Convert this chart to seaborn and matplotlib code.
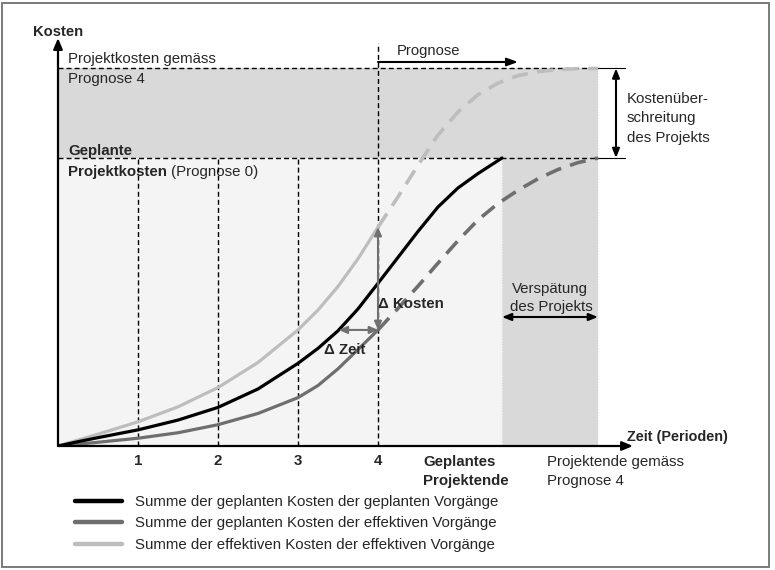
import numpy as np
import pandas as pd
import matplotlib
matplotlib.use("Agg")
import matplotlib.pyplot as plt
from matplotlib.lines import Line2D
from matplotlib.patches import Rectangle
import seaborn as sns

# ---------------- data ----------------
periods = [1, 2, 3, 4]
tick_labels = ["1", "2", "3", "4"]
status_period = 4            # Prognose 4 is made at end of period 4
planned_end = 5.55           # Geplantes Projektende
forecast_end = 6.75          # Projektende gemäss Prognose 4
planned_cost = 100.0         # Geplante Projektkosten (Prognose 0)
forecast_cost = 131.1        # Projektkosten gemäss Prognose 4

# Summe der geplanten Kosten der geplanten Vorgänge
plan_x = [0, 0.25, 0.5, 1, 1.5, 2, 2.5, 3, 3.25, 3.5, 3.75, 4, 4.25, 4.5, 4.75, 5.0, 5.25, 5.55]
plan_y = [0, 1.5, 2.9, 5.6, 9.0, 13.4, 19.8, 28.7, 33.9, 40.0, 47.6, 56.5, 65.5, 74.5, 83.0, 89.6, 94.6, 100.0]

# Summe der geplanten Kosten der effektiven Vorgänge
earned_x = [0, 0.5, 1, 1.5, 2, 2.5, 3, 3.25, 3.5, 3.75, 4, 4.25, 4.5, 4.75, 5.0, 5.25, 5.5,
            5.75, 6.0, 6.25, 6.5, 6.75]
earned_y = [0, 1.3, 2.7, 4.6, 7.4, 11.3, 16.8, 21.0, 26.8, 33.5, 40.3, 47.8, 55.5, 63.5, 71.3, 78.5, 84.2,
            88.8, 92.8, 96.0, 98.4, 100.0]

# Summe der effektiven Kosten der effektiven Vorgänge
actual_x = [0, 0.5, 1, 1.5, 2, 2.5, 3, 3.25, 3.5, 3.75, 4, 4.25, 4.5, 4.75, 5.0, 5.25, 5.5,
            5.75, 6.0, 6.25, 6.5, 6.75]
actual_y = [0, 4.1, 8.4, 13.6, 20.3, 29.0, 40.3, 47.2, 55.4, 65.0, 76.0, 86.5, 97.5, 108.0, 116.0, 122.0, 126.0,
            128.6, 130.0, 130.7, 131.0, 131.1]

legend_labels = [
    "Summe der geplanten Kosten der geplanten Vorgänge",
    "Summe der geplanten Kosten der effektiven Vorgänge",
    "Summe der effektiven Kosten der effektiven Vorgänge",
]

# ---------------- style ----------------
sns.set_theme(style="white")
plt.rcParams["font.family"] = ["Liberation Sans", "DejaVu Sans"]
plt.rcParams["font.size"] = 10.8

C_BLACK = "#000000"
C_MID = "#6e6e6e"
C_LIGHT = "#bdbdbd"
BG_LIGHT = "#f4f4f4"
BG_DARK = "#d9d9d9"

W, H = 775, 570
fig = plt.figure(figsize=(W / 100, H / 100), dpi=100)

# pixel geometry of the axes
X0, Y0 = 58, 446          # origin
XR, YT = 633, 38          # arrow tips
SX, SY = 80.0, 2.88       # px per period, px per cost unit

ax = fig.add_axes([X0 / W, (H - Y0) / H, (XR - X0) / W, (Y0 - YT) / H])
ax.set_xlim(0, (XR - X0) / SX)
ax.set_ylim(0, (Y0 - YT) / SY)
ax.set_facecolor("none")
for s in ax.spines.values():
    s.set_visible(False)


def dx(px):
    return (px - X0) / SX


def dy(py):
    return (Y0 - py) / SY


# ---------------- backgrounds ----------------
ax.fill_between([0, planned_end], 0, planned_cost, color=BG_LIGHT, lw=0, zorder=0)
ax.fill_between([planned_end, forecast_end], 0, planned_cost, color=BG_DARK, lw=0, zorder=0)
ax.fill_between([0, forecast_end], planned_cost, forecast_cost, color=BG_DARK, lw=0, zorder=0)
for xe in (planned_end, forecast_end):
    ax.plot([xe, xe], [0, planned_cost if xe == planned_end else forecast_cost],
            color="#eeeeee", lw=0.8, ls=(0, (1, 1.5)), zorder=0.5)

# ---------------- reference lines ----------------
thin_dash = (0, (3.6, 2.2))
for lvl in (planned_cost, forecast_cost):
    ax.plot([0, forecast_end], [lvl, lvl], color="black", lw=1.0, ls=thin_dash, zorder=2)
    ax.plot([forecast_end, dx(625)], [lvl, lvl], color="black", lw=0.8, zorder=2, clip_on=False)
for p in periods[:-1]:
    ax.plot([p, p], [0, planned_cost], color="black", lw=1.0, ls=thin_dash, zorder=2)
ax.plot([status_period, status_period], [0, dy(43)], color="black", lw=1.0, ls=thin_dash,
        zorder=2, clip_on=False)

# ---------------- curves ----------------
curve_dash = (0, (4.5, 2.6))


def split(xs, ys, cut):
    xs = np.asarray(xs, float)
    ys = np.asarray(ys, float)
    a = xs <= cut
    b = xs >= cut
    return (xs[a], ys[a]), (xs[b], ys[b])


sns.lineplot(x=plan_x, y=plan_y, ax=ax, color=C_BLACK, lw=2.3, zorder=4, legend=False)
for xs, ys, col in ((earned_x, earned_y, C_MID), (actual_x, actual_y, C_LIGHT)):
    (sx_, sy_), (dx_, dy_) = split(xs, ys, status_period)
    sns.lineplot(x=sx_, y=sy_, ax=ax, color=col, lw=2.3, zorder=3, legend=False)
    sns.lineplot(x=dx_, y=dy_, ax=ax, color=col, lw=2.6, zorder=3, legend=False,
                 linestyle=curve_dash)

# ---------------- delta arrows ----------------
earned4 = float(np.interp(status_period, earned_x, earned_y))
actual4 = float(np.interp(status_period, actual_x, actual_y))
plan_at = float(np.interp(earned4, plan_y, plan_x))
arr_gray = dict(arrowstyle="<|-|>,head_length=0.45,head_width=0.2", color="#707070", lw=1.5,
                shrinkA=0, shrinkB=0)
ax.annotate("", xy=(status_period, earned4), xytext=(plan_at, earned4), arrowprops=arr_gray, zorder=5)
ax.annotate("", xy=(status_period, actual4), xytext=(status_period, earned4), arrowprops=arr_gray, zorder=5)
ax.text(dx(378), dy(307.5), "Δ Kosten", fontweight="bold", fontsize=10.8, ha="left", va="baseline", zorder=6)
ax.text(dx(345), dy(354.5), "Δ Zeit", fontweight="bold", fontsize=10.8, ha="center", va="baseline", zorder=6)

# ---------------- axes arrows ----------------
arr_axis = dict(arrowstyle="-|>,head_length=0.6,head_width=0.25", color="black", lw=1.6,
                shrinkA=0, shrinkB=0)
ax.annotate("", xy=(1, 0), xytext=(0, 0), xycoords="axes fraction", arrowprops=arr_axis,
            annotation_clip=False, zorder=7)
ax.annotate("", xy=(0, 1), xytext=(0, 0), xycoords="axes fraction", arrowprops=arr_axis,
            annotation_clip=False, zorder=7)

# ---------------- ticks ----------------
ax.set_xticks(periods)
ax.set_xticklabels(tick_labels, fontweight="bold", fontsize=10.8)
ax.set_yticks([])
ax.tick_params(axis="x", length=0, pad=6)
ax.set_xlabel("")
ax.set_ylabel("")

# ---------------- annotations ----------------
black_arr = dict(arrowstyle="<|-|>,head_length=0.5,head_width=0.2", color="black", lw=1.5,
                 shrinkA=0, shrinkB=0)
one_arr = dict(arrowstyle="-|>,head_length=0.6,head_width=0.22", color="black", lw=1.5,
               shrinkA=0, shrinkB=0)
# Prognose arrow
ax.annotate("", xy=(dx(518), dy(62)), xytext=(status_period, dy(62)), arrowprops=one_arr,
            annotation_clip=False, zorder=6)
ax.text(dx(428), dy(55.5), "Prognose", ha="center", va="baseline", fontsize=10.6)
# Kostenüberschreitung
ax.annotate("", xy=(dx(616), forecast_cost), xytext=(dx(616), planned_cost), arrowprops=black_arr,
            annotation_clip=False, zorder=6)
for t, b in (("Kostenüber-", 103), ("schreitung", 122), ("des Projekts", 142)):
    ax.text(dx(627), dy(b), t, ha="left", va="baseline", fontsize=10.8, clip_on=False)
# Verspätung
ax.annotate("", xy=(forecast_end, dy(317)), xytext=(planned_end, dy(317)), arrowprops=black_arr,
            zorder=6)
ax.text(dx(550), dy(293.5), "Verspätung", ha="center", va="baseline", fontsize=10.8)
ax.text(dx(551), dy(311), "des Projekts", ha="center", va="baseline", fontsize=10.8)

# left-top labels
ax.text(dx(68), dy(63.5), "Projektkosten gemäss", ha="left", va="baseline", fontsize=10.8, zorder=1)
ax.text(dx(68), dy(83.5), "Prognose 4", ha="left", va="baseline", fontsize=10.8, zorder=1)
ax.text(dx(68), dy(155.5), "Geplante", ha="left", va="baseline", fontsize=10.8,
        fontweight="bold", zorder=1)
t1 = ax.text(dx(68), dy(176), "Projektkosten", ha="left", va="baseline", fontsize=10.8,
             fontweight="bold", zorder=1)
ax.annotate(" (Prognose 0)", xycoords=t1, xy=(1, 0), va="bottom", ha="left", fontsize=10.8, zorder=1)

ax.text(dx(33), dy(35.5), "Kosten", ha="left", va="baseline", fontsize=10.6, fontweight="bold",
        clip_on=False)
ax.text(dx(627), dy(440.5), "Zeit (Perioden)", ha="left", va="baseline", fontsize=10.4,
        fontweight="bold", clip_on=False)

# bottom labels
ax.text(dx(423), dy(466), "Geplantes", ha="left", va="baseline", fontsize=10.8, fontweight="bold",
        clip_on=False)
ax.text(dx(423), dy(484.5), "Projektende", ha="left", va="baseline", fontsize=10.8, fontweight="bold",
        clip_on=False)
ax.text(dx(547), dy(466), "Projektende gemäss", ha="left", va="baseline", fontsize=10.8, clip_on=False)
ax.text(dx(547), dy(484.5), "Prognose 4", ha="left", va="baseline", fontsize=10.8, clip_on=False)

# ---------------- legend ----------------
handles = [Line2D([0], [0], color=c, lw=3.2) for c in (C_BLACK, C_MID, C_LIGHT)]
fig.legend(handles, legend_labels, loc="upper left", bbox_to_anchor=(75 / W, 1 - 495 / H),
           frameon=False, borderpad=0, borderaxespad=0, handlelength=3.15, handletextpad=0.85,
           labelspacing=0.5, fontsize=10.8)

# ---------------- frame around the figure ----------------
fig.patches.append(Rectangle((2 / W, 3 / H), 767 / W, 564 / H, transform=fig.transFigure,
                             fill=False, edgecolor="#7a7a7a", lw=1.4))

fig.savefig("out.png", dpi=100)
